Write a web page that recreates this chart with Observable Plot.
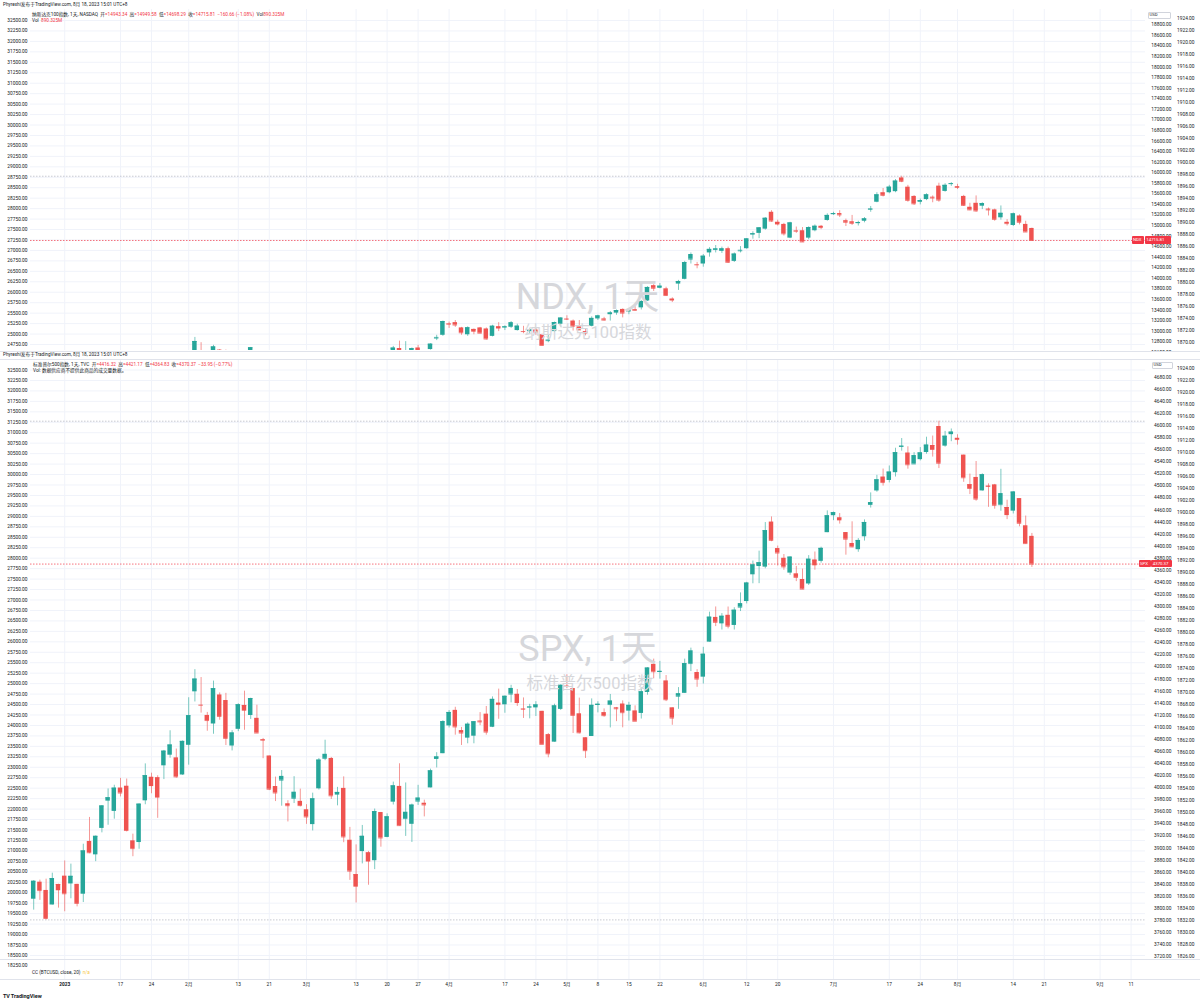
<!DOCTYPE html>
<html><head><meta charset="utf-8"><title>NDX / SPX</title>
<script src="https://cdn.jsdelivr.net/npm/d3@7"></script>
<script src="https://cdn.jsdelivr.net/npm/@observablehq/plot@0.6"></script>
<style>
html,body{margin:0;padding:0;background:#fff;}
#root{position:relative;width:1200px;height:1002px;overflow:hidden;background:#fff;font-family:Roboto,"Noto Sans CJK SC",sans-serif;color:#131722;}
#root svg{position:absolute;left:0;top:0;}
.t{position:absolute;white-space:nowrap;line-height:1;transform:translateY(-50%);}
.r{color:#f23645}
.hl{position:absolute;height:0;border-top:1px solid #e0e3eb;left:0;width:1200px;}
</style></head>
<body><div id="root"></div>
<script>
// ---------------- DATA ----------------
const dates = [
"2022-12-23","2022-12-27","2022-12-28","2022-12-29","2022-12-30",
"2023-01-03","2023-01-04","2023-01-05","2023-01-06","2023-01-09","2023-01-10","2023-01-11","2023-01-12","2023-01-13","2023-01-17","2023-01-18","2023-01-19","2023-01-20","2023-01-23","2023-01-24","2023-01-25","2023-01-26","2023-01-27","2023-01-30","2023-01-31",
"2023-02-01","2023-02-02","2023-02-03","2023-02-06","2023-02-07","2023-02-08","2023-02-09","2023-02-10","2023-02-13","2023-02-14","2023-02-15","2023-02-16","2023-02-17","2023-02-21","2023-02-22","2023-02-23","2023-02-24","2023-02-27","2023-02-28",
"2023-03-01","2023-03-02","2023-03-03","2023-03-06","2023-03-07","2023-03-08","2023-03-09","2023-03-10","2023-03-13","2023-03-14","2023-03-15","2023-03-16","2023-03-17","2023-03-20","2023-03-21","2023-03-22","2023-03-23","2023-03-24","2023-03-27","2023-03-28","2023-03-29","2023-03-30","2023-03-31",
"2023-04-03","2023-04-04","2023-04-05","2023-04-06","2023-04-10","2023-04-11","2023-04-12","2023-04-13","2023-04-14","2023-04-17","2023-04-18","2023-04-19","2023-04-20","2023-04-21","2023-04-24","2023-04-25","2023-04-26","2023-04-27","2023-04-28",
"2023-05-01","2023-05-02","2023-05-03","2023-05-04","2023-05-05","2023-05-08","2023-05-09","2023-05-10","2023-05-11","2023-05-12","2023-05-15","2023-05-16","2023-05-17","2023-05-18","2023-05-19","2023-05-22","2023-05-23","2023-05-24","2023-05-25","2023-05-26","2023-05-30","2023-05-31",
"2023-06-01","2023-06-02","2023-06-05","2023-06-06","2023-06-07","2023-06-08","2023-06-09","2023-06-12","2023-06-13","2023-06-14","2023-06-15","2023-06-16","2023-06-20","2023-06-21","2023-06-22","2023-06-23","2023-06-26","2023-06-27","2023-06-28","2023-06-29","2023-06-30",
"2023-07-03","2023-07-05","2023-07-06","2023-07-07","2023-07-10","2023-07-11","2023-07-12","2023-07-13","2023-07-14","2023-07-17","2023-07-18","2023-07-19","2023-07-20","2023-07-21","2023-07-24","2023-07-25","2023-07-26","2023-07-27","2023-07-28","2023-07-31",
"2023-08-01","2023-08-02","2023-08-03","2023-08-04","2023-08-07","2023-08-08","2023-08-09","2023-08-10","2023-08-11","2023-08-14","2023-08-15","2023-08-16","2023-08-17"];

// SPX daily OHLC
const spxOpen = [3815.1,3843.3,3829.6,3805.5,3829.1,
3853.3,3840.4,3839.7,3823.4,3910.8,3888.6,3932.4,3977.6,3960.6,3999.3,4002.3,3911.8,3909.0,3978.1,4001.7,3982.7,4036.1,4053.7,4049.3,4020.9,
4070.1,4158.7,4136.7,4119.6,4105.4,4153.5,4144.3,4068.9,4096.6,4126.7,4119.5,4114.8,4077.4,4052.4,4001.8,4018.6,3973.2,3992.4,3977.2,
3963.3,3938.7,3998.0,4055.2,4048.3,3987.6,3998.7,3912.8,3835.1,3894.0,3876.7,3878.9,3958.7,3917.5,3975.9,4002.0,3959.2,3939.2,3982.9,3974.1,3999.5,4046.7,4056.2,
4102.2,4128.0,4094.5,4082.0,4085.2,4110.3,4121.7,4100.0,4140.1,4137.2,4164.3,4139.3,4130.5,4132.1,4132.1,4126.4,4087.8,4075.3,4129.6,
4166.8,4164.1,4122.3,4082.6,4084.7,4136.1,4124.3,4143.7,4132.2,4138.5,4126.7,4127.1,4122.9,4157.7,4204.2,4190.8,4176.8,4132.2,4155.7,4156.2,4226.7,4190.7,
4183.0,4241.0,4282.0,4271.3,4285.5,4268.7,4304.9,4308.3,4352.6,4366.3,4365.3,4440.0,4396.1,4380.0,4355.4,4354.2,4344.8,4337.4,4367.5,4374.9,4422.4,
4450.5,4442.0,4422.6,4404.5,4394.2,4415.6,4467.7,4491.5,4514.6,4508.9,4521.8,4563.9,4554.4,4550.2,4543.4,4555.2,4558.9,4598.3,4565.8,4584.8,
4578.8,4550.9,4494.3,4513.9,4491.6,4498.0,4501.6,4487.2,4450.7,4458.1,4478.9,4433.8,4416.32];
const spxHigh = [3845.8,3846.7,3848.3,3858.2,3839.9,
3878.5,3873.2,3839.7,3906.2,3950.6,3919.8,3970.1,3997.8,4003.9,4015.4,4014.2,3922.9,3972.9,4039.3,4023.9,4019.6,4061.6,4094.2,4063.9,4077.2,
4148.9,4195.4,4182.4,4124.6,4176.5,4156.9,4156.2,4094.4,4138.9,4159.8,4148.1,4136.5,4081.5,4052.4,4017.4,4028.3,3978.3,4018.1,3997.5,
3971.7,3990.8,4048.3,4078.5,4050.0,4000.4,4017.8,3934.1,3905.1,3937.3,3894.3,3964.5,3958.9,3956.6,4009.1,4039.5,4007.7,3972.7,4003.8,3979.2,4030.6,4057.9,4110.8,
4127.7,4133.1,4099.7,4107.3,4109.5,4124.3,4134.4,4150.3,4163.2,4151.7,4169.5,4162.6,4148.6,4138.0,4142.4,4126.4,4089.7,4138.2,4170.1,
4186.9,4164.1,4148.3,4082.6,4147.0,4142.3,4130.4,4154.3,4132.8,4143.7,4141.3,4135.5,4164.7,4198.7,4212.9,4209.2,4185.7,4132.2,4165.7,4212.9,4231.1,4195.4,
4232.4,4290.7,4299.3,4288.3,4299.2,4298.0,4322.6,4340.1,4375.4,4391.8,4439.2,4448.5,4400.2,4386.2,4382.3,4366.6,4362.1,4384.4,4390.4,4398.4,4458.5,
4456.5,4454.1,4422.6,4440.4,4412.6,4443.6,4488.3,4517.4,4527.8,4532.9,4562.3,4578.4,4564.7,4555.0,4563.4,4580.6,4582.5,4607.1,4590.2,4594.2,
4584.6,4550.9,4519.5,4540.3,4519.8,4503.3,4502.4,4527.4,4476.2,4490.3,4478.9,4449.9,4421.17];
const spxLow = [3797.0,3813.2,3780.8,3805.5,3800.3,
3794.3,3815.8,3802.4,3809.6,3890.4,3877.3,3925.0,3937.6,3947.7,3984.6,3926.6,3885.5,3897.9,3971.6,3989.8,3949.1,4013.3,4048.7,4015.6,4020.4,
4037.2,4141.9,4123.4,4093.4,4088.4,4111.7,4069.7,4060.8,4092.7,4095.0,4113.0,4089.9,4047.9,3995.0,3976.9,3969.2,3943.1,3973.6,3968.0,
3939.1,3928.2,3996.0,4044.6,3980.3,3969.8,3908.7,3846.3,3808.9,3873.6,3838.2,3864.1,3901.3,3916.9,3971.2,3936.2,3919.1,3909.2,3970.5,3951.5,3999.5,4032.6,4056.2,
4098.8,4086.9,4069.8,4072.6,4072.6,4102.6,4086.9,4099.4,4113.2,4123.2,4140.4,4134.5,4114.6,4113.9,4117.8,4071.4,4049.4,4075.3,4127.8,
4164.1,4089.7,4088.9,4048.3,4084.7,4123.8,4116.7,4098.9,4109.3,4099.1,4110.3,4109.9,4113.6,4153.1,4180.2,4179.7,4142.5,4103.3,4129.7,4156.2,4192.2,4166.2,
4171.6,4241.0,4266.8,4261.1,4263.0,4261.1,4291.7,4304.4,4337.7,4337.9,4362.6,4407.4,4367.2,4360.1,4351.8,4341.3,4328.1,4335.0,4360.2,4371.9,4422.4,
4442.3,4436.6,4385.1,4397.4,4389.9,4408.5,4463.2,4489.4,4499.6,4504.9,4514.6,4557.5,4527.6,4535.8,4541.3,4552.4,4547.6,4528.6,4564.0,4573.1,
4567.5,4505.8,4485.5,4474.5,4491.2,4464.4,4461.3,4457.9,4444.0,4453.4,4432.2,4403.6,4364.83];
const spxClose = [3844.8,3829.3,3783.2,3849.3,3839.5,
3824.1,3853.0,3808.1,3895.1,3892.1,3919.3,3969.6,3983.2,3999.1,3991.0,3928.9,3898.9,3972.6,4019.8,4017.0,4016.2,4060.4,4070.6,4017.8,4076.6,
4119.2,4179.8,4136.5,4111.1,4164.0,4117.9,4081.5,4090.5,4137.3,4136.1,4147.6,4090.4,4079.1,3997.3,3991.1,4012.3,3970.0,3982.2,3970.2,
3951.4,3981.4,4045.6,4048.4,3986.4,3992.0,3918.3,3861.6,3855.8,3919.3,3891.9,3960.3,3916.6,3951.6,4002.9,3937.0,3948.7,3971.0,3977.5,3971.3,4027.8,4050.8,4109.3,
4124.5,4100.6,4090.4,4105.0,4109.1,4108.9,4092.0,4146.2,4137.6,4151.3,4154.9,4154.5,4129.8,4133.5,4137.0,4071.6,4056.0,4135.4,4169.5,
4167.9,4119.6,4090.8,4061.2,4136.3,4138.1,4119.2,4137.6,4130.6,4124.1,4136.3,4109.9,4158.8,4198.1,4192.0,4192.6,4145.6,4115.2,4151.3,4205.5,4205.5,4179.8,
4221.0,4282.4,4273.8,4283.9,4267.5,4293.9,4298.9,4338.9,4369.0,4372.6,4425.8,4409.6,4388.7,4365.7,4381.9,4348.3,4328.8,4378.4,4376.9,4396.4,4450.4,
4455.6,4446.8,4411.6,4398.9,4409.5,4439.3,4472.2,4510.0,4505.4,4522.8,4555.0,4565.7,4534.9,4536.3,4554.6,4567.5,4566.8,4537.4,4582.2,4589.0,
4576.7,4513.4,4501.9,4478.0,4518.4,4499.4,4467.7,4468.8,4464.1,4489.7,4437.9,4404.3,4370.37];

// NDX daily OHLC
const ndxOpen = [10950,10960,10810,10760,10880,
11000,10920,10860,10800,11120,11100,11260,11430,11380,11530,11600,11340,11300,11610,11770,11660,11880,11950,12060,11910,
12070,12620,12600,12510,12460,12640,12590,12290,12350,12420,12510,12530,12400,12220,12070,12200,11990,12110,12040,
12020,11840,12080,12300,12280,12120,12180,11930,11770,12000,11980,12110,12450,12460,12600,12670,12600,12590,12680,12600,12650,12880,12920,
13120,13160,13060,12930,12980,13060,13040,12900,13040,13060,13160,13010,12990,12990,13020,12930,12830,12990,13130,
13230,13190,13080,12990,13090,13230,13230,13310,13340,13410,13360,13380,13440,13570,13860,13810,13800,13570,13890,13980,14450,14260,
14270,14480,14530,14510,14560,14320,14530,14560,14820,14850,14930,15250,15010,15020,14760,14900,14900,14760,14900,14985,15095,
15205,15225,15090,15070,15035,15080,15295,15440,15620,15620,15640,15900,15725,15550,15440,15490,15535,15745,15645,15780,
15735,15550,15345,15420,15365,15310,15295,15145,15060,15000,15180,15020,14943.34];
const ndxHigh = [11000,10970,10880,10980,10945,
11050,10980,10880,11080,11290,11220,11395,11480,11560,11640,11690,11370,11600,11890,11850,11770,11990,12230,12110,12110,
12400,12880,12780,12560,12730,12650,12640,12370,12480,12620,12690,12620,12410,12250,12140,12240,12010,12160,12110,
12040,12050,12280,12390,12300,12190,12290,12000,12030,12140,12180,12470,12560,12560,12710,12810,12800,12680,12730,12610,12760,12920,13190,
13170,13200,13070,13080,13040,13070,13060,13110,13160,13100,13180,13130,13090,13040,13060,12940,12920,13170,13250,
13290,13210,13200,13030,13270,13300,13260,13370,13400,13420,13420,13460,13580,13840,13880,13900,13830,13630,13960,14320,14480,14300,
14450,14580,14620,14590,14590,14480,14600,14750,14880,14960,15150,15280,15100,15040,15060,14970,14960,14975,15010,15000,15220,
15250,15280,15120,15190,15080,15150,15360,15620,15700,15760,15870,15932,15760,15565,15500,15600,15560,15800,15790,15810,
15780,15570,15420,15560,15430,15330,15310,15370,15110,15235,15200,15080,14949.58];
const ndxLow = [10860,10780,10670,10750,10830,
10730,10800,10730,10720,11080,11060,11230,11330,11370,11500,11390,11250,11290,11600,11740,11580,11800,11940,11890,11900,
11980,12580,12540,12440,12380,12440,12300,12230,12320,12340,12490,12450,12250,12050,11990,12000,11900,12030,12020,
11880,11830,12070,12260,12090,12080,11930,11780,11690,11950,11940,12090,12430,12420,12570,12500,12540,12530,12580,12460,12640,12820,12900,
13050,13070,12920,12900,12930,12950,12830,12890,12990,13010,13050,13000,12950,12950,12920,12720,12780,12970,13080,
13200,13000,13010,12910,13080,13200,13190,13190,13300,13250,13310,13380,13400,13560,13750,13800,13660,13540,13770,13970,14270,14180,
14210,14400,14480,14470,14280,14300,14480,14550,14740,14750,14910,15060,14990,14800,14750,14850,14680,14730,14880,14920,15080,
15190,15150,14980,15000,14990,15050,15250,15430,15540,15600,15620,15810,15440,15380,15390,15470,15430,15440,15630,15740,
15680,15360,15280,15250,15300,15180,15080,15100,14990,14980,15010,14870,14698.29];
const ndxClose = [10985,10822,10679,10951,10939,
10862,10914,10742,11040,11108,11214,11392,11459,11541,11556,11393,11281,11591,11838,11805,11753,11989,12154,11902,12101,
12352,12803,12573,12485,12700,12456,12348,12304,12448,12585,12685,12471,12359,12056,12060,12191,11982,12058,12043,
11926,12029,12270,12284,12118,12167,11946,11830,11880,12093,12154,12442,12520,12519,12678,12500,12626,12667,12617,12512,12752,12867,13181,
13133,13115,12968,13063,13031,12960,12850,13092,13080,13080,13087,13093,12991,13023,12980,12728,12819,13161,13246,
13225,13092,13022,12962,13240,13287,13208,13343,13389,13340,13406,13401,13560,13826,13810,13850,13673,13604,13939,14298,14361,14254,
14418,14547,14555,14557,14302,14458,14520,14745,14843,14954,15136,15083,15059,14842,15048,14891,14688,14960,14985,14960,15190,
15225,15200,15060,15040,15055,15125,15310,15580,15570,15725,15840,15836,15475,15410,15470,15580,15520,15480,15760,15792,
15720,15380,15295,15275,15415,15295,15115,15230,15035,15220,15060,14876.47,14715.81];

// axis tick labels
const timeTickDates = ["2023-01-03","2023-01-17","2023-01-24","2023-02-01","2023-02-13","2023-02-21","2023-03-01","2023-03-13","2023-03-20","2023-03-27","2023-04-03","2023-04-17","2023-04-24","2023-05-01","2023-05-08","2023-05-15","2023-05-22","2023-06-01","2023-06-12","2023-06-20","2023-07-03","2023-07-17","2023-07-24","2023-08-01","2023-08-14","2023-08-21","2023-09-01","2023-09-11"];
const timeTickLabels = ["2023","17","24","2月","13","21","3月","13","20","27","4月","17","24","5月","8","15","22","6月","12","20","7月","17","24","8月","14","21","9月","11"];
const marketHolidays = ["2023-09-04"];
const leftTicksTop = d3.range(32500, 24749, -250);
const leftTicksBottom = d3.range(32500, 18249, -250);
const ndxTicks = d3.range(18800, 12599, -200);
const spxTicks = d3.range(4680, 3719, -20);
const auxTicksTop = d3.range(1924, 1869, -2);
const auxTicksBottom = d3.range(1924, 1825, -2);

// ---------------- BUILD ----------------
const root = document.getElementById("root");
const UP = "#26a69a", DN = "#ef5350";
const FONT = 'Roboto, "Noto Sans CJK SC", sans-serif';
const AX = 4.8; // axis font size

function sessionIndex(ds) {
  const k = dates.indexOf(ds);
  if (k >= 0) return k;
  const d = new Date(dates[dates.length - 1] + "T00:00:00Z");
  let i = dates.length - 1;
  for (let n = 0; n < 400; n++) {
    d.setUTCDate(d.getUTCDate() + 1);
    const s = d.toISOString().slice(0, 10), wd = d.getUTCDay();
    if (wd === 0 || wd === 6 || marketHolidays.includes(s)) continue;
    i++;
    if (s === ds) return i;
  }
  return null;
}
const timeTicks = timeTickDates.map((d, k) => ({i: sessionIndex(d), label: timeTickLabels[k], bold: timeTickLabels[k].length === 4}));

function rowsOf(o, h, l, c) {
  return dates.map((d, i) => ({i, o: o[i], h: h[i], l: l[i], c: c[i],
    col: (i === 0 ? c[i] >= o[i] : c[i] >= c[i - 1]) ? UP : DN}));
}
const ndxRows = rowsOf(ndxOpen, ndxHigh, ndxLow, ndxClose);
const spxRows = rowsOf(spxOpen, spxHigh, spxLow, spxClose);

// x: session index → pixel (index 14 = Jan 17 at x=120, 6.2px per session)
const X = {type: "linear", domain: [14, 161], range: [120, 120 + 147 * 6.2], axis: null};

function layer(H, top, bottom, y, marks) {
  const svg = Plot.plot({
    width: 1200, height: H, marginTop: top, marginBottom: H - bottom, marginLeft: 30, marginRight: 55,
    x: X, y: {type: "linear", ...y, axis: null}, color: {type: "identity"},
    style: {background: "transparent", fontFamily: FONT, color: "#131722"},
    marks
  });
  root.appendChild(svg);
  return svg;
}
const fmt = d => d.toFixed(2);
function gridLayer(H, top, bottom, y, ticks, gridTicks, withTime) {
  const marks = [
    Plot.ruleX(timeTicks, {x: "i", stroke: "#f0f3fa", strokeWidth: 1}),
    Plot.ruleY(gridTicks, {y: d => d, stroke: "#f0f3fa", strokeWidth: 1}),
    Plot.text(ticks, {y: d => d, text: fmt, frameAnchor: "left", dx: -3, textAnchor: "end", fontSize: AX, fill: "#131722"})
  ];
  if (withTime) {
    marks.push(Plot.text(timeTicks.filter(d => !d.bold), {x: "i", text: "label", frameAnchor: "bottom", dy: 6, fontSize: AX, fill: "#131722"}));
    marks.push(Plot.text(timeTicks.filter(d => d.bold), {x: "i", text: "label", frameAnchor: "bottom", dy: 6, fontSize: AX, fontWeight: "bold", fill: "#131722"}));
  }
  return layer(H, top, bottom, y, marks);
}
function auxLayer(H, top, bottom, y, ticks) {
  return layer(H, top, bottom, y, [
    Plot.text(ticks, {y: d => d, text: fmt, frameAnchor: "right", dx: 49, textAnchor: "end", fontSize: AX, fill: "#131722"})
  ]);
}
function priceLayer(H, top, bottom, y, rows, ticks) {
  const hi = d3.max(rows, d => d.h), lo = d3.min(rows, d => d.l), last = rows[rows.length - 1].c;
  return layer(H, top, bottom, y, [
    Plot.ruleY([hi, lo], {y: d => d, stroke: "#b2b5be", strokeWidth: 0.7, strokeDasharray: "1.5,1.5", clip: true}),
    Plot.ruleY([last], {y: d => d, stroke: "#f23645", strokeWidth: 0.7, strokeDasharray: "1.5,1.5", clip: true}),
    Plot.ruleX(rows, {x: "i", y1: "l", y2: "h", stroke: "col", strokeOpacity: 0.6, strokeWidth: 1, clip: true}),
    Plot.rect(rows, {x1: d => d.i - 0.36, x2: d => d.i + 0.36, y1: "o", y2: "c", fill: "col", clip: true}),
    Plot.ruleY(rows, {x1: d => d.i - 0.36, x2: d => d.i + 0.36, y: "c", stroke: "col", strokeWidth: 0.8, clip: true}),
    Plot.text(ticks, {y: d => d, text: fmt, frameAnchor: "right", dx: 26, textAnchor: "end", fontSize: AX, fill: "#131722"})
  ]);
}

// ---- top pane (NDX) ----
gridLayer(352, 9, 350, {domain: [32500, 24750], range: [20, 344]}, leftTicksTop, leftTicksTop, false);
auxLayer(352, 9, 350, {domain: [1924, 1870], range: [18.3, 342.3]}, auxTicksTop);
const ndxSvg = priceLayer(352, 9, 350, {domain: [18800, 12600], range: [24.3, 351.7]}, ndxRows, ndxTicks);

// ---- bottom pane (SPX) ----
gridLayer(1002, 359, 979, {domain: [32500, 18250], range: [369.5, 965.4]}, leftTicksBottom, leftTicksBottom.filter(v => v >= 18500), true);
auxLayer(1002, 359, 958, {domain: [1924, 1826], range: [368.3, 956.3]}, auxTicksBottom);
const spxSvg = priceLayer(1002, 359, 958, {domain: [4680, 3720], range: [376.7, 956.1]}, spxRows, spxTicks);

// ---------------- TEXT / DECOR ----------------
function T(html, x, y, size, css = "") {
  const el = document.createElement("div");
  el.className = "t";
  el.style.cssText = `left:${x}px;top:${y}px;font-size:${size}px;${css}`;
  el.innerHTML = html;
  root.appendChild(el);
  return el;
}
function line(y, css = "") {
  const el = document.createElement("div");
  el.className = "hl"; el.style.top = y + "px"; el.style.cssText += css;
  root.appendChild(el);
}
function box(x, y, w, h, css) {
  const el = document.createElement("div");
  el.style.cssText = `position:absolute;left:${x}px;top:${y}px;width:${w}px;height:${h}px;box-sizing:border-box;${css}`;
  root.appendChild(el);
  return el;
}
line(351); line(359); line(958.5); line(979);

const HS = 4.7;
T("Phyrexhi发布于TradingView.com, 8月 18, 2023 15:01 UTC+8", 3, 4.8, HS);
T("Phyrexhi发布于TradingView.com, 8月 18, 2023 15:01 UTC+8", 3, 354.5, HS);

T(`纳斯达克100指数, 1天, NASDAQ&nbsp;&nbsp;开<span class="r">=14943.34</span>&nbsp;&nbsp;高<span class="r">=14949.58</span>&nbsp;&nbsp;低<span class="r">=14698.29</span>&nbsp;&nbsp;收<span class="r">=14715.81&nbsp;&nbsp;−160.66 (−1.08%)</span>&nbsp;&nbsp;Vol<span class="r">890.325M</span>`, 32, 14.7, HS);
T(`Vol&nbsp;&nbsp;<span class="r">890.325M</span>`, 32, 20.7, HS);
T(`标准普尔500指数, 1天, TVC&nbsp;&nbsp;开<span class="r">=4416.32</span>&nbsp;&nbsp;高<span class="r">=4421.17</span>&nbsp;&nbsp;低<span class="r">=4364.83</span>&nbsp;&nbsp;收<span class="r">=4370.37&nbsp;&nbsp;−33.95 (−0.77%)</span>`, 33, 365, HS);
T(`Vol: 数据供应商不提供此商品的成交量数据。`, 33, 370.7, HS);
T(`CC (BTCUSD, close, 20)&nbsp;&nbsp;<span style="color:#f7c948">n/a</span>`, 32, 973, HS);

// USD boxes
box(1147.5, 11.5, 23.5, 7, "border:0.6px solid #d1d4dc;border-radius:1px;background:#fff;");
T("USD", 1149.5, 15, 4.3);
box(1151.5, 361.5, 21, 7.5, "border:0.6px solid #d1d4dc;border-radius:1px;background:#fff;");
T("USD", 1153.5, 365.3, 4.3);

// last price labels positioned by the plots' y scales
function lastLabel(svg, v, sym, xs, ws, xv, wv) {
  const y = svg.scale("y").apply(v);
  box(xs, y - 3.6, ws, 7.2, "background:#f23645;border-radius:1px;");
  box(xv, y - 3.6, wv, 7.2, "background:#f23645;border-radius:1px;");
  T(sym, xs + 1.5, y, 4.3, "color:#fff");
  T(v.toFixed(2), xv + 1.8, y, 4.3, "color:#fff");
}
lastLabel(ndxSvg, ndxClose[ndxClose.length - 1], "NDX", 1131.5, 12, 1144.5, 26);
lastLabel(spxSvg, spxClose[spxClose.length - 1], "SPX", 1138.5, 12, 1151, 21);

// watermarks
function wm(text, cx, y, size) {
  return T(text, cx, y, size, "color:#d6d7db;transform:translate(-50%,-50%);");
}
wm("NDX, 1天", 587.5, 297, 36);
wm("纳斯达克100指数", 588, 333, 16.5);
wm("SPX, 1天", 587.5, 649, 36);
wm("标准普尔500指数", 590, 684, 16.5);

// TradingView logo
T(`<b style="letter-spacing:-0.3px">TV</b> <b>TradingView</b>`, 3, 997, 5.5);
</script></body></html>
